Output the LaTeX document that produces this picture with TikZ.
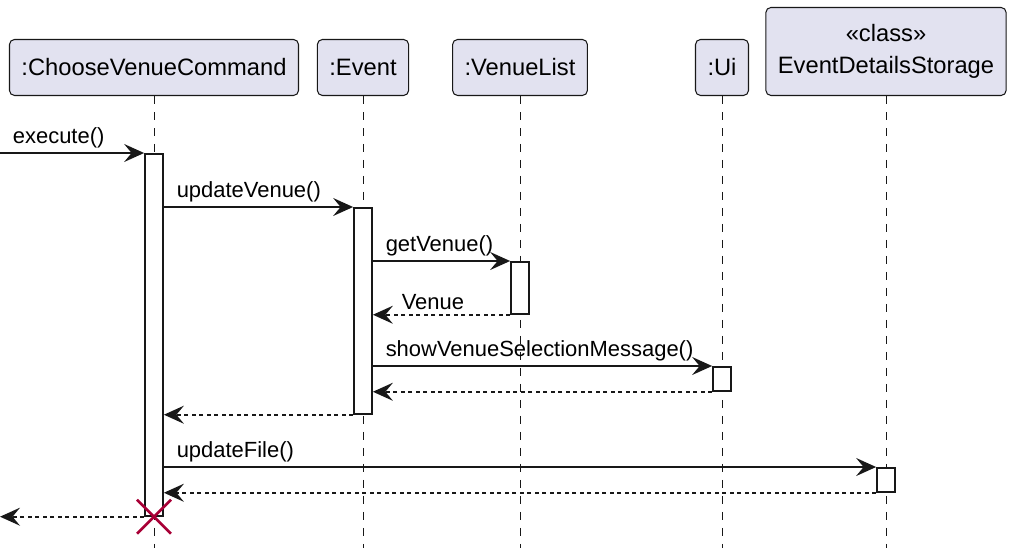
\documentclass[tikz,border=0pt]{standalone}
\usepackage{fontspec}
\setmainfont{Liberation Sans}
\usetikzlibrary{arrows.meta,positioning}
\definecolor{partfill}{HTML}{E2E2F0}
\definecolor{lineclr}{HTML}{181818}
\definecolor{destroyclr}{HTML}{A80036}

\begin{document}
\begin{tikzpicture}[x=.02cm,y=-.02cm,
  part/.style={draw=lineclr,fill=partfill,line width=.6pt,rounded corners=1mm,inner xsep=.24cm,inner ysep=0pt,minimum height=1.12cm,anchor=south,align=center,font=\fontsize{13.5}{18.2}\selectfont},
  lifeline/.style={draw=lineclr,line width=.55pt,dash pattern=on .16cm off .16cm},
  act/.style={draw=lineclr,fill=white,line width=1pt,minimum width=.36cm,inner sep=0pt,anchor=north},
  msg/.style={draw=lineclr,line width=1pt,-{Stealth[length=.4cm,width=.36cm,inset=.15cm]}},
  ret/.style={msg,dash pattern=on .08cm off .07cm},
  lbl/.style={anchor=south west,inner sep=0pt,xshift=.24cm,yshift=.08cm,font=\fontsize{12.5}{15}\selectfont},
  destroy/.style={draw=destroyclr,line width=1.5pt}]
\useasboundingbox (0,0) rectangle (1016,555);
\node[part] (cvc) at (154,96) {:ChooseVenueCommand};
\node[part] (ev) at (363,96) {:Event};
\node[part] (vl) at (520,96) {:VenueList};
\node[part] (ui) at (722,96) {:Ui};
\node[part,minimum height=1.76cm] (eds) at (886,96) {«class»\\EventDetailsStorage};
\coordinate (bot) at (0,548);
\foreach \p in {cvc,ev,vl,ui,eds}
  \draw[lifeline] (\p.south) -- (\p.south |- bot);
\node[act,minimum height=7.24cm] (actC) at (154,153) {};
\node[act,minimum height=4.12cm] (actE) at (363,207) {};
\node[act,minimum height=1.04cm] (actV) at (520,261) {};
\node[act,minimum height=.48cm] (actU) at (722,366) {};
\node[act,minimum height=.48cm] (actS) at (886,467) {};
\coordinate (entry) at (0,153);
\coordinate (exit) at (0,515);
\draw[msg] (entry) -- node[lbl,pos=0] {execute()} (actC.north west);
\draw[msg] (actC.east |- actE.north) -- node[lbl,pos=0] {updateVenue()} (actE.north west);
\draw[msg] (actE.east |- actV.north) -- node[lbl,pos=0] {getVenue()} (actV.north west);
\draw[ret] (actV.south west) -- node[lbl,pos=1,xshift=.32cm] {Venue} (actV.south west -| actE.east);
\draw[msg] (actE.east |- actU.north) -- node[lbl,pos=0] {showVenueSelectionMessage()} (actU.north west);
\draw[ret] (actU.south west) -- (actU.south west -| actE.east);
\draw[ret] (actE.south west) -- (actE.south west -| actC.east);
\draw[msg] (actC.east |- actS.north) -- node[lbl,pos=0] {updateFile()} (actS.north west);
\draw[ret] (actS.south west) -- (actS.south west -| actC.east);
\draw[ret] (actC.south west) -- (actC.south west -| exit);
\draw[destroy] (actC.south) +(-17,-17) -- +(17,17) +(-17,17) -- +(17,-17);
\end{tikzpicture}
\end{document}
